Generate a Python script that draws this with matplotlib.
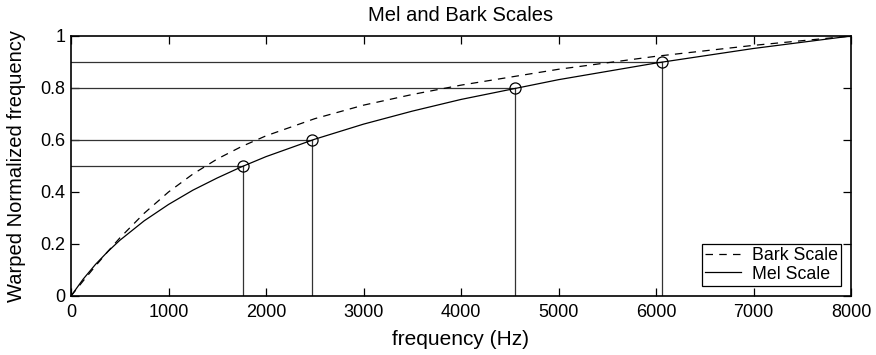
import matplotlib
matplotlib.use("Agg")
import matplotlib.pyplot as plt

plt.rcParams["font.family"] = ["Liberation Sans", "DejaVu Sans"]

# values (frequency in Hz, normalized warped frequency)
freq_hz = [0, 125, 250, 375, 500, 750, 1000, 1250, 1500, 1750, 2000, 2500,
           3000, 3500, 4000, 5000, 6000, 7000, 8000]
mel_norm = [0.0, 0.065, 0.121, 0.170, 0.214, 0.289, 0.352, 0.407, 0.454, 0.497,
            0.536, 0.603, 0.661, 0.711, 0.756, 0.832, 0.896, 0.952, 1.0]
bark_norm = [0.0, 0.058, 0.115, 0.170, 0.223, 0.318, 0.400, 0.469, 0.527, 0.575,
             0.616, 0.682, 0.734, 0.775, 0.811, 0.872, 0.922, 0.964, 1.0]

# marked points on the mel curve
mark_hz = [1768, 2475, 4556, 6060]
mark_val = [0.5, 0.6, 0.8, 0.9]

fig = plt.figure(figsize=(8.76, 3.55), dpi=100)
ax = fig.add_axes([71 / 876, 1 - 296 / 355, 780 / 876, 260 / 355])

for f, v in zip(mark_hz, mark_val):
    ax.plot([0, f], [v, v], color="#333333", lw=0.9)
    ax.plot([f, f], [0, v], color="#333333", lw=0.9)

ax.plot(freq_hz, bark_norm, color="black", lw=0.9, dashes=(6, 5), label="Bark Scale")
ax.plot(freq_hz, mel_norm, color="black", lw=0.9, label="Mel Scale")
ax.plot(mark_hz, mark_val, "o", mfc="none", mec="black", ms=8, mew=0.9)

ax.set_xlim(0, 8000)
ax.set_ylim(0, 1)
ax.set_xticks(range(0, 8001, 1000))
ax.set_yticks([0, 0.2, 0.4, 0.6, 0.8, 1])
ax.set_yticklabels(["0", "0.2", "0.4", "0.6", "0.8", "1"])
ax.tick_params(direction="in", top=True, right=True, length=5.5, width=0.9,
               labelsize=13, pad=4)
ax.tick_params(axis="x", pad=6)
for s in ax.spines.values():
    s.set_linewidth(1.2)

ax.set_title("Mel and Bark Scales", fontsize=14.5, pad=11)
ax.set_xlabel("frequency (Hz)", fontsize=15, labelpad=6)
ax.set_ylabel("Warped Normalized frequency", fontsize=14.5, labelpad=10)

leg = ax.legend(loc="lower right", fancybox=False, framealpha=1, edgecolor="black",
                fontsize=12.8, handlelength=2.0, borderpad=0.2, labelspacing=0.08,
                borderaxespad=0.55, handletextpad=0.6)
leg.get_frame().set_linewidth(0.9)

fig.savefig("out.png", dpi=100)
